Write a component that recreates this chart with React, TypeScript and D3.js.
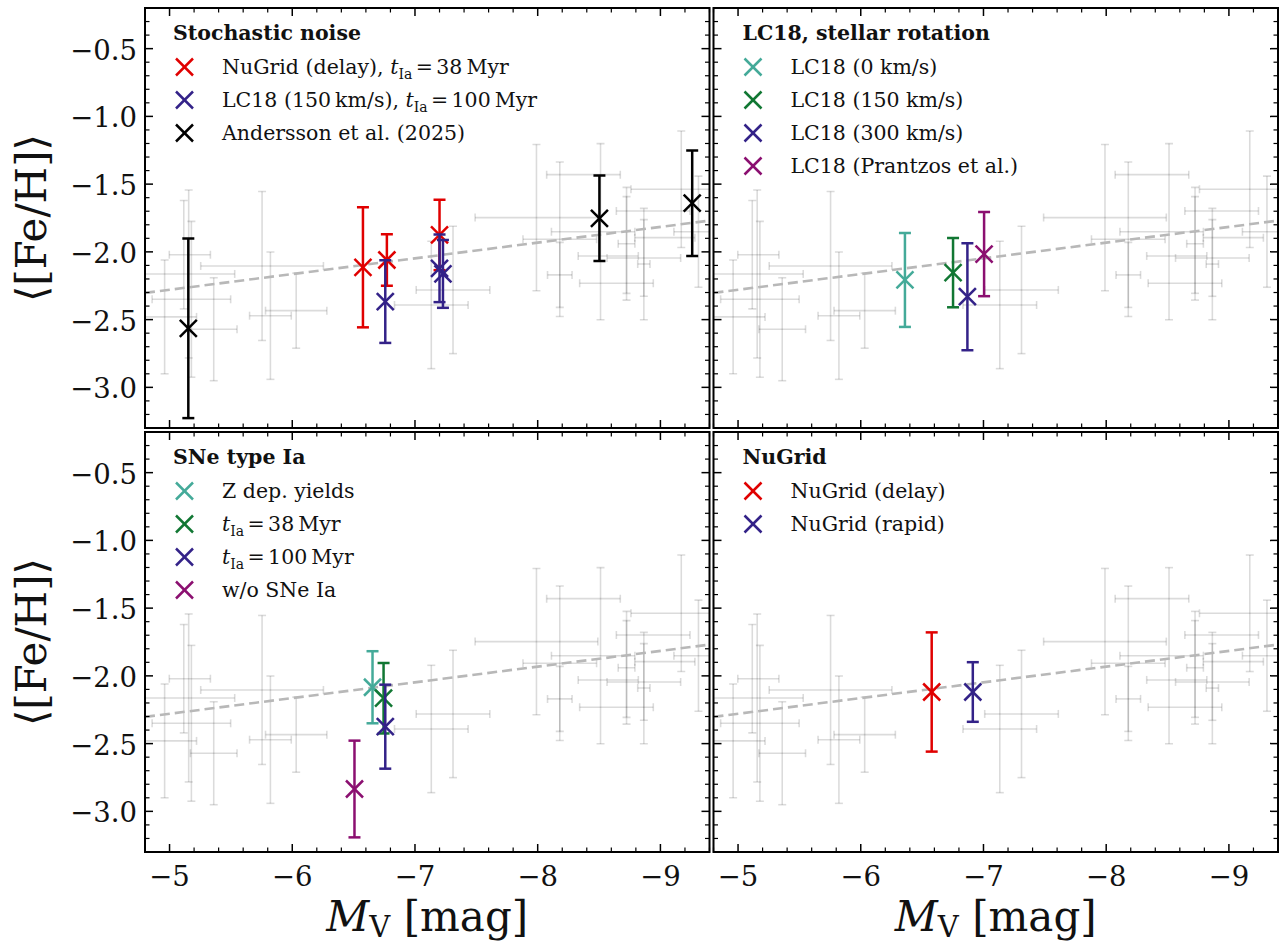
import React from 'react';
import * as d3 from 'd3';

// ---------- axes ----------
const X_DOMAIN = [-4.8, -9.4];
const Y_DOMAIN = [-0.2, -3.3];
const xTickValues = [-5, -6, -7, -8, -9];
const yTickValues = [-0.5, -1.0, -1.5, -2.0, -2.5, -3.0];

// ---------- observed dwarf galaxies (grey) ----------
const obsMV = [-4.96, -5.116, -5.156, -5.178, -5.36, -5.754, -5.822, -6.032, -7.133, -7.31, -7.99, -8.18, -8.18, -8.512, -9.17, -9.31, -8.724, -8.724, -8.865, -8.865, -8.575, -8.642, -8.941, -9.036, -8.373];
const obsMVErrFaint = [0.26, 0.118, 0.375, 0.32, 0.19, 0.5, 0.17, 0.25, 0.3, 0.3, 0.5, 0.3, 0.1, 0.4, 0.41, 0.2, 0.068, 0, 0.05, 0.3, 0.245, 0.3, 0.3, 0.245, 0.3];
const obsMVErrBright = [0.26, 0.217, 0.375, 0.32, 0.19, 0.5, 0.17, 0.25, 0.3, 0.3, 0.5, 0.3, 0.1, 0.28, 0.41, 0.2, 0.068, 0, 0.05, 0.3, 0.245, 0.3, 0.3, 0.245, 0.3];
const obsFeH = [-2.48, -2.021, -2.163, -2.35, -2.571, -2.104, -2.471, -2.434, -2.392, -2.281, -1.747, -1.907, -2.17, -1.851, -1.538, -1.851, -1.94, -1.949, -2.09, -2.045, -2.03, -2.232, -1.698, -1.895, -1.43];
const obsFeHErr = [0.42, 0.4, 0.62, 0.575, 0.38, 0.55, 0.47, 0.277, 0.47, 0.47, 0.54, 0.57, 0.24, 0.65, 0.43, 0.41, 0.416, 0.357, 0.411, 0.283, 0, 0, 0, 0, 0];

// mass-metallicity relation: [Fe/H] = A + B log10(L / 1e6 Lsun), L from M_V (M_V,sun = 4.83)
const relA = -1.68;
const relB = 0.29;
const relMVsun = 4.83;

// ---------- model results ----------
const RED = '#e00000';
const INDIGO = '#332288';
const BLACK = '#000000';
const TEAL = '#44aa99';
const GREEN = '#117733';
const WINE = '#8b0f70';

// panel 1 : stochastic noise
const stochNuGridMV = [-6.576, -6.771, -7.2];
const stochNuGridFeH = [-2.114, -2.06, -1.875];
const stochNuGridErr = [0.443, 0.19, 0.26];
const stochLC18MV = [-6.758, -7.2, -7.228];
const stochLC18FeH = [-2.367, -2.121, -2.163];
const stochLC18Err = [0.305, 0.25, 0.25];
const anderssonMV = [-5.153, -8.503, -9.259];
const anderssonFeH = [-2.564, -1.752, -1.641];
const anderssonErr = [0.663, 0.316, 0.39];

// panel 2 : LC18 stellar rotation
const rotMV = [-6.36, -6.752, -6.869, -7.005];
const rotFeH = [-2.207, -2.153, -2.331, -2.016];
const rotErr = [0.347, 0.256, 0.395, 0.311];

// panel 3 : SNe Ia
const snMV = [-6.654, -6.744, -6.758, -6.507];
const snFeH = [-2.084, -2.165, -2.375, -2.835];
const snErr = [0.266, 0.26, 0.31, 0.357];

// panel 4 : NuGrid
const nuMV = [-6.578, -6.913];
const nuFeH = [-2.119, -2.119];
const nuErr = [0.44, 0.22];

type Part = { t: string; i?: boolean; sub?: boolean };
type Series = { label: Part[]; color: string; mv: number[]; feh: number[]; err: number[] };
type PanelDef = { title: string; series: Series[] };

const tIa = (v: string): Part[] => [{ t: 't', i: true }, { t: 'Ia', sub: true }, { t: `\u2006=\u2006${v}\u2009Myr` }];

const panels: PanelDef[] = [
  {
    title: 'Stochastic noise',
    series: [
      { label: [{ t: 'NuGrid (delay), ' }, ...tIa('38')], color: RED, mv: stochNuGridMV, feh: stochNuGridFeH, err: stochNuGridErr },
      { label: [{ t: 'LC18 (150\u2009km/s), ' }, ...tIa('100')], color: INDIGO, mv: stochLC18MV, feh: stochLC18FeH, err: stochLC18Err },
      { label: [{ t: 'Andersson et al. (2025)' }], color: BLACK, mv: anderssonMV, feh: anderssonFeH, err: anderssonErr },
    ],
  },
  {
    title: 'LC18, stellar rotation',
    series: [
      { label: [{ t: 'LC18 (0 km/s)' }], color: TEAL, mv: [rotMV[0]], feh: [rotFeH[0]], err: [rotErr[0]] },
      { label: [{ t: 'LC18 (150 km/s)' }], color: GREEN, mv: [rotMV[1]], feh: [rotFeH[1]], err: [rotErr[1]] },
      { label: [{ t: 'LC18 (300 km/s)' }], color: INDIGO, mv: [rotMV[2]], feh: [rotFeH[2]], err: [rotErr[2]] },
      { label: [{ t: 'LC18 (Prantzos et al.)' }], color: WINE, mv: [rotMV[3]], feh: [rotFeH[3]], err: [rotErr[3]] },
    ],
  },
  {
    title: 'SNe type Ia',
    series: [
      { label: [{ t: 'Z dep. yields' }], color: TEAL, mv: [snMV[0]], feh: [snFeH[0]], err: [snErr[0]] },
      { label: tIa('38'), color: GREEN, mv: [snMV[1]], feh: [snFeH[1]], err: [snErr[1]] },
      { label: tIa('100'), color: INDIGO, mv: [snMV[2]], feh: [snFeH[2]], err: [snErr[2]] },
      { label: [{ t: 'w/o SNe Ia' }], color: WINE, mv: [snMV[3]], feh: [snFeH[3]], err: [snErr[3]] },
    ],
  },
  {
    title: 'NuGrid',
    series: [
      { label: [{ t: 'NuGrid (delay)' }], color: RED, mv: [nuMV[0]], feh: [nuFeH[0]], err: [nuErr[0]] },
      { label: [{ t: 'NuGrid (rapid)' }], color: INDIGO, mv: [nuMV[1]], feh: [nuFeH[1]], err: [nuErr[1]] },
    ],
  },
];

// ---------- layout ----------
const W = 564.5;
const H = 420;
const LEFTS = [145, 713.5];
const TOPS = [8, 432];
const FONT = '"DejaVu Serif", serif';
const TICK_FS = 27.5;
const LEG_FS = 20.5;
const LABEL_FS = 42;

function RichText({ parts, x, y, fs }: { parts: Part[]; x: number; y: number; fs: number }) {
  const nodes: React.ReactNode[] = [];
  let shifted = false;
  parts.forEach((p, k) => {
    if (p.sub) {
      nodes.push(
        <tspan key={k} fontSize={fs * 0.68} dy={fs * 0.22}>{p.t}</tspan>
      );
      shifted = true;
    } else {
      nodes.push(
        <tspan key={k} fontStyle={p.i ? 'italic' : 'normal'} dy={shifted ? -fs * 0.22 : 0}>{p.t}</tspan>
      );
      shifted = false;
    }
  });
  return (
    <text x={x} y={y} fontSize={fs} fontFamily={FONT} fill="#111" style={{ whiteSpace: 'pre' }}>
      {nodes}
    </text>
  );
}

function Cross({ cx, cy, r, color, sw }: { cx: number; cy: number; r: number; color: string; sw: number }) {
  return (
    <g stroke={color} strokeWidth={sw}>
      <line x1={cx - r} y1={cy - r} x2={cx + r} y2={cy + r} />
      <line x1={cx - r} y1={cy + r} x2={cx + r} y2={cy - r} />
    </g>
  );
}

function Panel({ idx, col, row, def }: { idx: number; col: number; row: number; def: PanelDef }) {
  const x0 = LEFTS[col];
  const y0 = TOPS[row];
  const x = d3.scaleLinear().domain(X_DOMAIN).range([0, W]);
  const y = d3.scaleLinear().domain(Y_DOMAIN).range([0, H]);
  const clipId = `clip${idx}`;

  const relY = (mv: number) => relA + relB * ((relMVsun - mv) / 2.5 - 6);
  const relLine = d3.line<number>().x((d) => x(d)).y((d) => y(relY(d)));

  const xMinor: number[] = [];
  for (let k = 24; k <= 47; k++) if (k % 5 !== 0) xMinor.push(-k / 5);
  const yMinor: number[] = [];
  for (let k = 2; k <= 33; k++) if (k % 5 !== 0) yMinor.push(-k / 10);

  const MAJ = 8, MIN = 4.5;
  const greyCap = 4;
  const grey = 'rgba(0,0,0,0.14)';

  return (
    <g transform={`translate(${x0},${y0})`}>
      <defs>
        <clipPath id={clipId}>
          <rect x={0} y={0} width={W} height={H} />
        </clipPath>
      </defs>
      <g clipPath={`url(#${clipId})`}>
        {/* observations */}
        <g stroke={grey} strokeWidth={1.6} fill="none">
          {obsMV.map((mv, i) => {
            const hasX = obsMVErrFaint[i] + obsMVErrBright[i] > 0;
            const hasY = obsFeHErr[i] > 0;
            const xa = x(mv + obsMVErrFaint[i]);
            const xb = x(mv - obsMVErrBright[i]);
            const yc = y(obsFeH[i]);
            const xc = x(mv);
            const ya = y(obsFeH[i] + obsFeHErr[i]);
            const yb = y(obsFeH[i] - obsFeHErr[i]);
            return (
              <g key={i}>
                {hasX && (
                  <g>
                    <line x1={xa} x2={xb} y1={yc} y2={yc} />
                    <line x1={xa} x2={xa} y1={yc - greyCap} y2={yc + greyCap} />
                    <line x1={xb} x2={xb} y1={yc - greyCap} y2={yc + greyCap} />
                  </g>
                )}
                {hasY && (
                  <g>
                    <line x1={xc} x2={xc} y1={ya} y2={yb} />
                    <line x1={xc - greyCap} x2={xc + greyCap} y1={ya} y2={ya} />
                    <line x1={xc - greyCap} x2={xc + greyCap} y1={yb} y2={yb} />
                  </g>
                )}
              </g>
            );
          })}
        </g>
        {/* relation */}
        <path d={relLine([-4.8, -9.4]) || ''} stroke="#b8b8b8" strokeWidth={2.6} strokeDasharray="10,5" fill="none" />
        {/* models */}
        {def.series.map((s, si) => (
          <g key={si}>
            {s.mv.map((mv, i) => {
              const xc = x(mv);
              const ya = y(s.feh[i] + s.err[i]);
              const yb = y(s.feh[i] - s.err[i]);
              return (
                <g key={i} stroke={s.color} strokeWidth={2.5}>
                  <line x1={xc} x2={xc} y1={ya} y2={yb} />
                  <line x1={xc - 6} x2={xc + 6} y1={ya} y2={ya} />
                  <line x1={xc - 6} x2={xc + 6} y1={yb} y2={yb} />
                  <Cross cx={xc} cy={y(s.feh[i])} r={8.5} color={s.color} sw={2.5} />
                </g>
              );
            })}
          </g>
        ))}
      </g>

      {/* legend */}
      <text x={col === 0 ? 28 : 29} y={25} dy="0.36em" fontSize={LEG_FS} fontWeight="bold" fontFamily={FONT} fill="#111">
        {def.title}
      </text>
      {def.series.map((s, si) => {
        const cy = 59 + 33 * si;
        return (
          <g key={si}>
            <Cross cx={39.5} cy={cy} r={8.5} color={s.color} sw={2.5} />
            <RichText parts={s.label} x={77} y={cy + 7} fs={LEG_FS} />
          </g>
        );
      })}

      {/* ticks */}
      <g stroke="#000">
        {xTickValues.map((v) => (
          <g key={`xM${v}`} strokeWidth={1.5}>
            <line x1={x(v)} x2={x(v)} y1={H} y2={H - MAJ} />
            <line x1={x(v)} x2={x(v)} y1={0} y2={MAJ} />
          </g>
        ))}
        {xMinor.map((v) => (
          <g key={`xm${v}`} strokeWidth={1.2}>
            <line x1={x(v)} x2={x(v)} y1={H} y2={H - MIN} />
            <line x1={x(v)} x2={x(v)} y1={0} y2={MIN} />
          </g>
        ))}
        {yTickValues.map((v) => (
          <g key={`yM${v}`} strokeWidth={1.5}>
            <line x1={0} x2={MAJ} y1={y(v)} y2={y(v)} />
            <line x1={W} x2={W - MAJ} y1={y(v)} y2={y(v)} />
          </g>
        ))}
        {yMinor.map((v) => (
          <g key={`ym${v}`} strokeWidth={1.2}>
            <line x1={0} x2={MIN} y1={y(v)} y2={y(v)} />
            <line x1={W} x2={W - MIN} y1={y(v)} y2={y(v)} />
          </g>
        ))}
      </g>
      <rect x={0} y={0} width={W} height={H} fill="none" stroke="#000" strokeWidth={2} />

      {/* tick labels */}
      {col === 0 &&
        yTickValues.map((v) => (
          <text key={`yl${v}`} x={-8} y={y(v)} dy="0.4em" textAnchor="end" fontSize={TICK_FS} fontFamily={FONT} fill="#111">
            {'\u2212' + Math.abs(v).toFixed(1)}
          </text>
        ))}
      {row === 1 &&
        xTickValues.map((v) => (
          <text key={`xl${v}`} x={x(v)} y={H + 34} textAnchor="middle" fontSize={TICK_FS} fontFamily={FONT} fill="#111">
            {'\u2212' + Math.abs(v)}
          </text>
        ))}

      {/* axis labels */}
      {col === 0 && (
        <text transform={`translate(${-145 + 31},${H / 2}) rotate(-90)`} textAnchor="middle" dy="0.35em" fontSize={LABEL_FS} fontFamily={FONT} fill="#111">
          {'\u27e8[Fe/H]\u27e9'}
        </text>
      )}
      {row === 1 && (
        <text x={W / 2} y={H + 79} textAnchor="middle" fontSize={LABEL_FS} fontFamily={FONT} fill="#111">
          <tspan fontStyle="italic">M</tspan>
          <tspan fontSize={29} dy={6}>V</tspan>
          <tspan dy={-6}>{' [mag]'}</tspan>
        </text>
      )}
    </g>
  );
}

export default function App() {
  return (
    <svg width={1286} height={947} style={{ position: 'absolute', left: 0, top: 0, background: '#fff' }}>
      <rect width={1286} height={947} fill="#fff" />
      {panels.map((p, i) => (
        <Panel key={i} idx={i} col={i % 2} row={Math.floor(i / 2)} def={p} />
      ))}
    </svg>
  );
}
